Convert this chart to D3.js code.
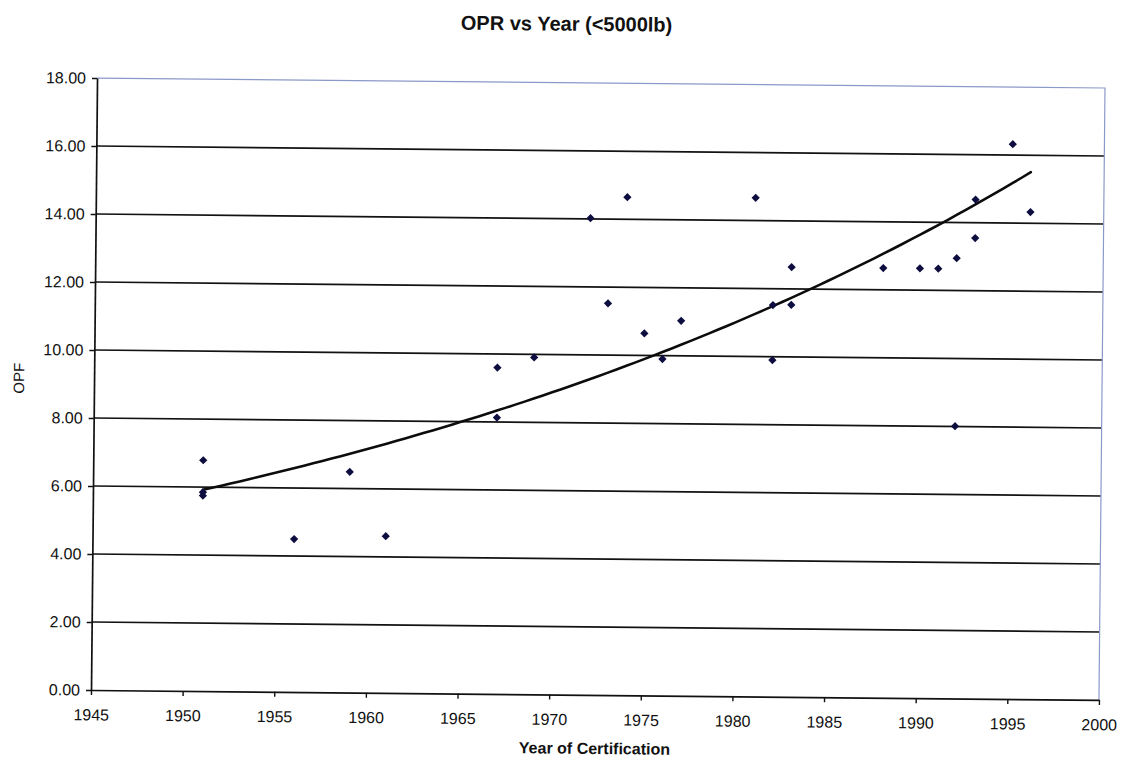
<!DOCTYPE html>
<html>
<head>
<meta charset="utf-8">
<script src="https://cdn.jsdelivr.net/npm/d3@7"></script>
<style>
  body { margin: 0; background: #fff; }
  svg { display: block; }
  text { font-family: "Liberation Sans", Arial, sans-serif; fill: #111; }
</style>
</head>
<body>
<script>
// ---- data ----
const years = [1951, 1951, 1951, 1956, 1959, 1961, 1967, 1967, 1969, 1972,
               1973, 1974, 1975, 1976, 1977, 1981, 1982, 1982, 1983, 1983,
               1988, 1990, 1991, 1992, 1992, 1993, 1993, 1995, 1996];
const opf   = [6.79, 5.85, 5.75, 4.50, 6.49, 4.61, 9.60, 8.13, 9.91, 14.02,
               11.52, 14.65, 10.65, 9.90, 11.03, 14.67, 11.52, 9.90, 12.64, 11.53,
               12.64, 12.64, 12.64, 12.95, 8.01, 13.55, 14.68, 16.32, 14.33];
const xTicks = [1945, 1950, 1955, 1960, 1965, 1970, 1975, 1980, 1985, 1990, 1995, 2000];
const yTicks = [0, 2, 4, 6, 8, 10, 12, 14, 16, 18];
// exponential trendline (Excel style): y = A * exp(B * (year - start))
const trendRange = [1951, 1996];
const trendA = 5.92;
const trendB = 0.02139;

const titleText = "OPR vs Year (<5000lb)";
const xTitle = "Year of Certification";
const yTitle = "OPF";

// ---- layout ----
const W = 1124, H = 759;
const m = { left: 94, right: 1102, top: 83, bottom: 695 };
const cx = (m.left + m.right) / 2, cy = (m.top + m.bottom) / 2;

const svg = d3.select("body").append("svg").attr("width", W).attr("height", H);
svg.append("rect").attr("width", W).attr("height", H).attr("fill", "#fff");

// the scanned page is slightly rotated
const g = svg.append("g").attr("transform", `rotate(0.565 ${cx} ${cy})`);

const x = d3.scaleLinear().domain([1945, 2000]).range([m.left, m.right]);
const y = d3.scaleLinear().domain([0, 18]).range([m.bottom, m.top]);

// horizontal gridlines
g.append("g").selectAll("line")
  .data(yTicks.filter(v => v > 0 && v < 18))
  .join("line")
  .attr("x1", x(1945)).attr("x2", x(2000))
  .attr("y1", d => y(d)).attr("y2", d => y(d))
  .attr("stroke", "#121212").attr("stroke-width", 1.6);

// plot area border (top & right) – bluish
g.append("path")
  .attr("d", `M${x(1945)},${y(18)}H${x(2000)}V${y(0)}`)
  .attr("fill", "none").attr("stroke", "#8b99c9").attr("stroke-width", 1.2);

// axes
const yAxis = d3.axisLeft(y).tickValues(yTicks).tickSize(5).tickSizeOuter(0)
  .tickPadding(6).tickFormat(d3.format(".2f"));
const gy = g.append("g").attr("transform", `translate(${x(1945)},0)`).call(yAxis);

const xAxis = d3.axisBottom(x).tickValues(xTicks).tickSize(5).tickSizeOuter(0)
  .tickPadding(14).tickFormat(d3.format("d"));
const gx = g.append("g").attr("transform", `translate(0,${y(0)})`).call(xAxis);

[gy, gx].forEach(a => {
  a.select(".domain").attr("stroke", "#111").attr("stroke-width", 1.7);
  a.selectAll(".tick line").attr("stroke", "#111").attr("stroke-width", 1.4);
  a.selectAll(".tick text").attr("font-size", 16).attr("fill", "#111")
    .attr("font-family", '"Liberation Sans", Arial, sans-serif');
});

// trendline
const tStep = 0.5;
const trendPts = d3.range(trendRange[0], trendRange[1] + tStep / 2, tStep)
  .map(t => [t, trendA * Math.exp(trendB * (t - trendRange[0]))]);
g.append("path")
  .datum(trendPts)
  .attr("d", d3.line().x(d => x(d[0])).y(d => y(d[1])))
  .attr("fill", "none").attr("stroke", "#0c0c0c").attr("stroke-width", 2.6)
  .attr("stroke-linejoin", "round").attr("stroke-linecap", "round");

// markers (diamonds)
const pts = years.map((yr, i) => ({ yr, v: opf[i] }));
const sym = d3.symbol().type(d3.symbolSquare).size(34);
g.append("g").selectAll("path")
  .data(pts)
  .join("path")
  .attr("d", sym)
  .attr("transform", d => `translate(${x(d.yr)},${y(d.v)}) rotate(45)`)
  .attr("fill", "#0d0d40");

// titles
g.append("text")
  .attr("x", 563).attr("y", 31)
  .attr("text-anchor", "middle")
  .attr("font-size", 20).attr("font-weight", "bold")
  .text(titleText);

g.append("text")
  .attr("x", cx).attr("y", 754)
  .attr("text-anchor", "middle")
  .attr("font-size", 16).attr("font-weight", "bold")
  .text(xTitle);

g.append("text")
  .attr("transform", `translate(24,${cy - 5}) rotate(-90)`)
  .attr("text-anchor", "middle")
  .attr("font-size", 15)
  .text(yTitle);
</script>
</body>
</html>
